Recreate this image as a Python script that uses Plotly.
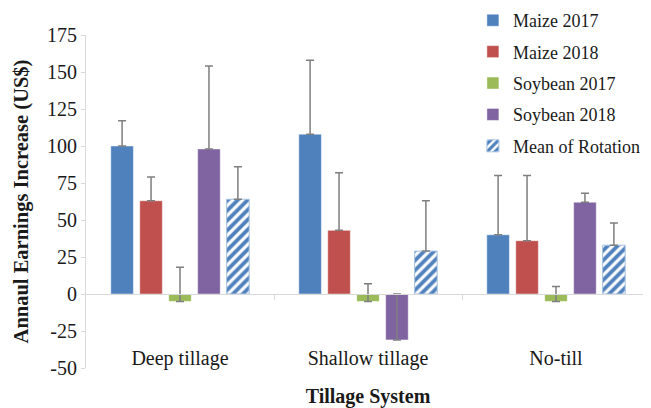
import plotly.graph_objects as go

categories = ["Deep tillage", "Shallow tillage", "No-till"]
series_names = ["Maize 2017", "Maize 2018", "Soybean 2017", "Soybean 2018", "Mean of Rotation"]
maize_2017 = [100, 108, 40]
maize_2017_err = [17, 50, 40]
maize_2018 = [63, 43, 36]
maize_2018_err = [16, 39, 44]
soy_2017 = [-5, -5, -5]
soy_2017_err = [23, 12, 10]
soy_2018 = [98, -31, 62]
soy_2018_err = [56, 31, 6]
mean_rot = [64, 29, 33]
mean_rot_err = [22, 34, 15]
y_ticks = [-50, -25, 0, 25, 50, 75, 100, 125, 150, 175]
y_tick_labels = ["-50", "-25", "0", "25", "50", "75", "100", "125", "150", "175"]

values = [maize_2017, maize_2018, soy_2017, soy_2018, mean_rot]
errors = [maize_2017_err, maize_2018_err, soy_2017_err, soy_2018_err, mean_rot_err]
colors = ["#4F81BD", "#C0504D", "#9BBB59", "#8064A2", "#4F81BD"]

FONT = "Liberation Serif, Times New Roman, serif"
TXT = "#1a1a1a"

fig = go.Figure()
for i, (name, vals, errs, col) in enumerate(zip(series_names, values, errors, colors)):
    marker = dict(color=col, line=dict(color="rgba(255,255,255,0.45)", width=1))
    if name == "Mean of Rotation":
        marker = dict(color="white",
                      pattern=dict(shape="/", fgcolor=col, bgcolor="white", size=7,
                                   solidity=0.55, fgopacity=1),
                      line=dict(color="#A6C2E3", width=1))
    fig.add_trace(go.Bar(
        name=name, x=categories, y=vals, marker=marker,
        legendgroup=f"g{i}",
        error_y=dict(type="data", array=errs, arrayminus=[0] * len(errs), symmetric=False,
                     color="#7F7F7F", thickness=1.5, width=4),
    ))

# dummy trace for the zero-level category axis
fig.add_trace(go.Scatter(x=[], y=[], xaxis="x2", showlegend=False, hoverinfo="skip"))

# the page body adds an 8px margin, so the figure is 8px smaller and margins are offset
fig.update_layout(
    width=643, height=400,
    margin=dict(l=78, r=1, t=27, b=40, autoexpand=False),
    paper_bgcolor="white", plot_bgcolor="white",
    font=dict(family=FONT, color=TXT, size=20),
    barmode="group", bargap=0.23, bargroupgap=0.22,
    showlegend=True,
    legend=dict(x=0.686, y=1.099, xanchor="left", yanchor="top",
                font=dict(family=FONT, size=18, color=TXT),
                bgcolor="rgba(0,0,0,0)", traceorder="grouped", tracegroupgap=5,
                itemwidth=30),
    xaxis=dict(range=[-0.5, 2.5], showline=False, ticks="", showgrid=False, zeroline=False,
               tickfont=dict(family=FONT, size=20, color=TXT), ticklabelstandoff=-24,
               title=dict(text="<b>Tillage System</b>", font=dict(family=FONT, size=20, color=TXT),
                          standoff=31)),
    xaxis2=dict(overlaying="x", anchor="free", position=50 / 225, type="linear", range=[-0.5, 2.5],
                tickvals=[0.5, 1.5, 2.5], ticks="outside", ticklen=5, tickcolor="#D9D9D9",
                showline=True, linecolor="#D9D9D9", linewidth=1, showticklabels=False,
                showgrid=False, zeroline=False),
    yaxis=dict(range=[-50, 175], tickvals=y_ticks, ticktext=y_tick_labels,
               showgrid=False, zeroline=False,
               showline=True, linecolor="#D9D9D9", linewidth=1, ticks="outside", ticklen=4,
               tickcolor="#D9D9D9", tickfont=dict(family=FONT, size=20, color=TXT),
               title=dict(text="<b>Annaul Earnings Increase (US$)</b>",
                          font=dict(family=FONT, size=20.5, color=TXT), standoff=12)),
)

fig.write_html("out.html")
